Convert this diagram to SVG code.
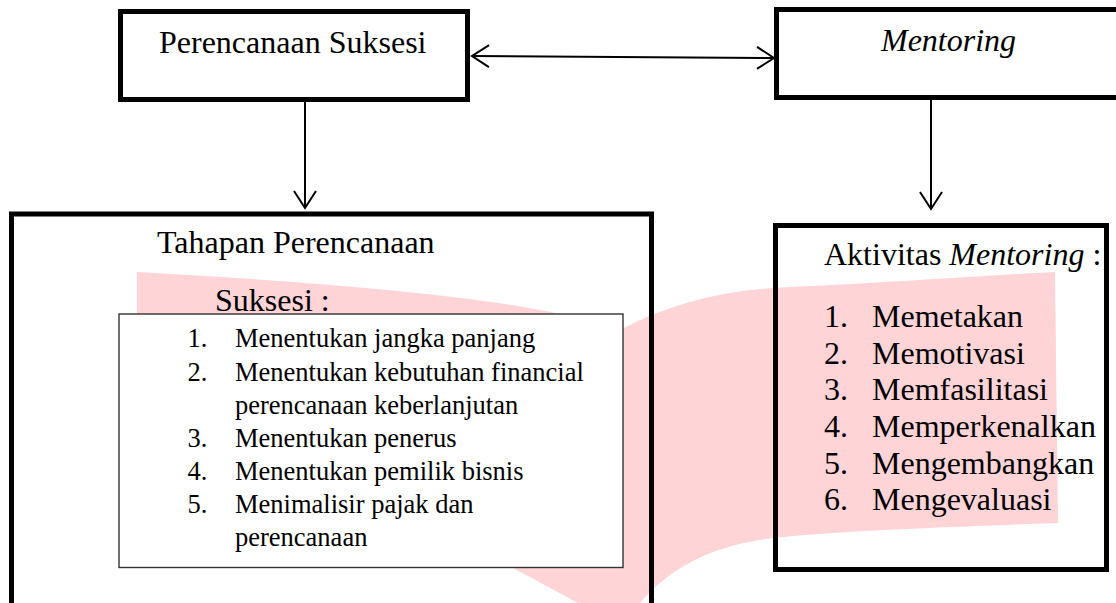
<svg xmlns="http://www.w3.org/2000/svg" width="1116" height="603" viewBox="0 0 1116 603">
<style>
.box{fill:none;stroke:#000;stroke-width:5}
.inner{fill:#fff;stroke:#333;stroke-width:1.4}
.t{font-family:"Liberation Serif","Times New Roman",serif;font-size:32px;fill:#000}
.s{font-family:"Liberation Serif","Times New Roman",serif;font-size:26.5px;fill:#000}
.it{font-style:italic}
.conn{fill:none;stroke:#000;stroke-width:2}
</style>
<defs>
<marker id="arr" markerUnits="userSpaceOnUse" viewBox="-20 -12 22 24" markerWidth="22" markerHeight="24" refX="0" refY="0" orient="auto-start-reverse">
<path d="M-17,-11 L0,0 L-17,11" fill="none" stroke="#000" stroke-width="2"/>
</marker>
</defs>
<g id="watermark">
<path d="M137,272 C300,281 470,294 560,314 L612,334 C660,308 710,292 773,288 C880,283 980,276 1055,272 L1058,523 C950,527 850,530 773,538 C712,546 672,566 640,603 L578,603 L513,568 L137,330 Z" fill="#ffd4d7"/>
</g>
<g id="perencanaan">
<rect class="box" x="120.5" y="11.5" width="347" height="88"/>
<text class="t" x="159" y="53">Perencanaan Suksesi</text>
</g>
<g id="mentoring">
<rect class="box" x="776.5" y="9.5" width="360" height="88"/>
<text class="t it" x="881" y="51">Mentoring</text>
</g>
<g id="tahapan">
<rect class="box" x="11.5" y="214" width="640" height="420"/>
<text class="t" x="157" y="253">Tahapan Perencanaan</text>
<text class="t" x="215" y="311">Suksesi :</text>
<rect class="inner" x="119" y="314" width="504" height="253.5"/>
<text class="s" x="187.5" y="347">1.</text><text class="s" x="235" y="347">Menentukan jangka panjang</text>
<text class="s" x="187.5" y="381">2.</text><text class="s" x="235" y="381">Menentukan kebutuhan financial</text>
<text class="s" x="235" y="414">perencanaan keberlanjutan</text>
<text class="s" x="187.5" y="447">3.</text><text class="s" x="235" y="447">Menentukan penerus</text>
<text class="s" x="187.5" y="480">4.</text><text class="s" x="235" y="480">Menentukan pemilik bisnis</text>
<text class="s" x="187.5" y="513">5.</text><text class="s" x="235" y="513">Menimalisir pajak dan</text>
<text class="s" x="235" y="546">perencanaan</text>
</g>
<g id="aktivitas">
<rect class="box" x="775.5" y="225.5" width="331" height="344"/>
<text class="t" x="824" y="265">Aktivitas <tspan class="it">Mentoring</tspan> :</text>
<text class="t" x="824" y="327">1.</text><text class="t" x="872" y="327">Memetakan</text>
<text class="t" x="824" y="363.5">2.</text><text class="t" x="872" y="363.5">Memotivasi</text>
<text class="t" x="824" y="400">3.</text><text class="t" x="872" y="400">Memfasilitasi</text>
<text class="t" x="824" y="437">4.</text><text class="t" x="872" y="437">Memperkenalkan</text>
<text class="t" x="824" y="473.5">5.</text><text class="t" x="872" y="473.5">Mengembangkan</text>
<text class="t" x="824" y="510">6.</text><text class="t" x="872" y="510">Mengevaluasi</text>
</g>
<g id="connectors">
<line class="conn" x1="472" y1="56" x2="774" y2="58" marker-start="url(#arr)" marker-end="url(#arr)"/>
<line class="conn" x1="305" y1="102" x2="305" y2="208" marker-end="url(#arr)"/>
<line class="conn" x1="931" y1="100" x2="931" y2="209" marker-end="url(#arr)"/>
</g>
</svg>
